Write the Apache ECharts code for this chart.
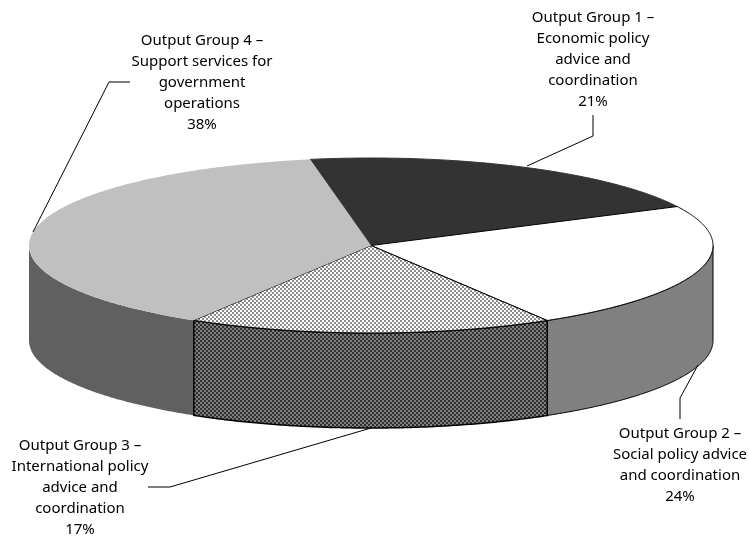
<!DOCTYPE html>
<html><head><meta charset="utf-8">
<style>html,body{margin:0;padding:0;background:#fff}#c{width:749px;height:538px}</style>
<script src="https://cdn.jsdelivr.net/npm/echarts@6/dist/echarts.min.js"></script>
</head><body><div id="c"></div>
<script>
const groups = ['Output Group 1 –\nEconomic policy\nadvice and\ncoordination',
                'Output Group 2 –\nSocial policy advice\nand coordination',
                'Output Group 3 –\nInternational policy\nadvice and\ncoordination',
                'Output Group 4 –\nSupport services for\ngovernment\noperations'];
const shares = [20.5, 23.73, 17.28, 38.49];

// Styles & layout
const topColors  = ['#333333', '#ffffff', 'hatchTop', '#c0c0c0'];
const wallColors = ['#1a1a1a', '#808080', 'hatchWall', '#606060'];
const strokes    = ['#333333', '#000000', '#000000', null];
const labelPos   = [[593, 7], [680, 423], [80, 435], [202, 30]];
const leaders    = [
  [[593,115],[593,136],[527,166]],
  [[680,419],[680,398],[698,365]],
  [[148,487],[170,487],[371,428]],
  [[130,82],[109,82],[33,232]]
];
const pie = {cx: 371, cy: 245.5, rx: 342, ry: 87.5, depth: 95, start: -10.24};

function checker(a, b, cell) {
  const c = document.createElement('canvas'); c.width = c.height = cell * 2;
  const g = c.getContext('2d');
  g.fillStyle = a; g.fillRect(0,0,cell*2,cell*2);
  g.fillStyle = b; g.fillRect(0,0,cell,cell); g.fillRect(cell,cell,cell,cell);
  return {image: c, repeat: 'repeat'};
}
const fills = {hatchTop: checker('#ffffff', '#8c8c8c', 2), hatchWall: checker('#808080', '#303030', 2)};
const paint = c => fills[c] || c;

const rad = d => d * Math.PI / 180;
const pt = (t, dy) => [pie.cx + pie.rx * Math.sin(rad(t)), pie.cy - pie.ry * Math.cos(rad(t)) + (dy || 0)];
function arc(t0, t1, dy) {
  const out = [], n = Math.max(2, Math.ceil(Math.abs(t1 - t0) * 2));
  for (let i = 0; i <= n; i++) out.push(pt(t0 + (t1 - t0) * i / n, dy));
  return out;
}
const bounds = shares.reduce((a, s) => (a.push(a[a.length - 1] + s * 3.6), a), [pie.start]);

function renderItem(params) {
  const i = params.dataIndex;
  const t0 = bounds[i], t1 = bounds[i + 1];
  const kids = [];
  const a = Math.max(t0, 90), b = Math.min(t1, 270);
  if (b > a) {
    kids.push({type: 'polygon', z2: i === 2 ? 2 : 1,
      shape: {points: arc(a, b, 0).concat(arc(b, a, pie.depth))},
      style: {fill: paint(wallColors[i]), stroke: strokes[i], lineWidth: i === 2 ? 1.5 : 1}});
  }
  kids.push({type: 'polygon', z2: 3,
    shape: {points: [[pie.cx, pie.cy]].concat(arc(t0, t1, 0))},
    style: {fill: paint(topColors[i]), stroke: strokes[i], lineWidth: 1}});
  kids.push({type: 'polyline', z2: 4, shape: {points: leaders[i]},
    style: {fill: null, stroke: '#000', lineWidth: 1}});
  kids.push({type: 'text', z2: 5, x: labelPos[i][0], y: labelPos[i][1],
    style: {text: groups[i] + '\n' + Math.round(shares[i]) + '%', align: 'center', verticalAlign: 'top',
      font: '15px "Noto Sans"', lineHeight: 21, fill: '#000'}});
  return {type: 'group', children: kids};
}

const chart = echarts.init(document.getElementById('c'), null, {renderer: 'canvas'});
chart.setOption({
  animation: false,
  backgroundColor: '#ffffff',
  series: [{type: 'custom', coordinateSystem: 'none', silent: true,
    data: shares, renderItem: renderItem}]
});
</script></body></html>
